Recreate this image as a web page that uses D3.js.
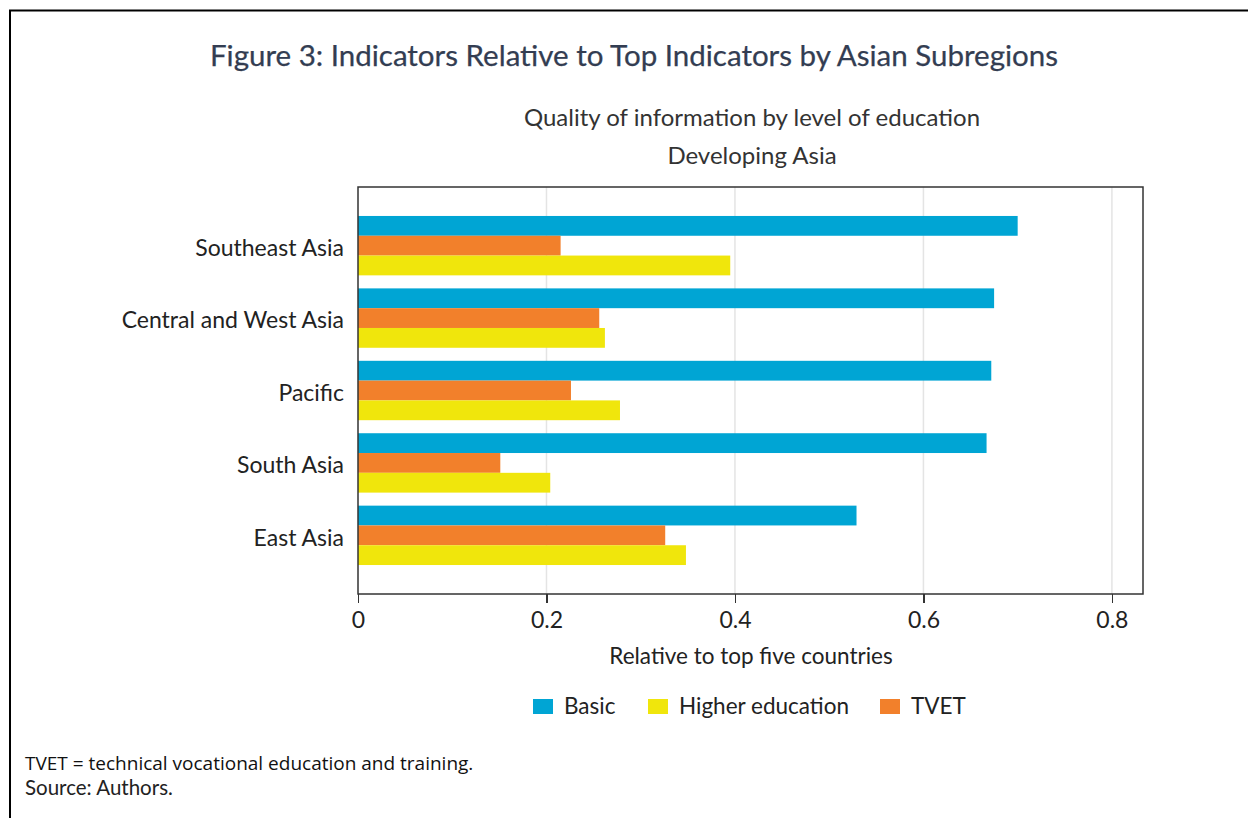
<!DOCTYPE html>
<html lang="en">
<head>
    <meta charset="UTF-8">
    <title>Figure 3</title>
    <script src="https://d3js.org/d3.v7.min.js"></script>
    <style>
        body { margin: 0; background: #fff; }
        .axis text { font-family: Lato, sans-serif; font-size: 23px; fill: #222; }
        .axis path, .axis line { shape-rendering: crispEdges; }
    </style>
</head>
<body>
    <svg id="chart" width="1248" height="818"></svg>
    <script>
        // data
        const regions = ["Southeast Asia", "Central and West Asia", "Pacific", "South Asia", "East Asia"];
        const seriesNames = ["Basic", "TVET", "Higher education"];
        const legendOrder = ["Basic", "Higher education", "TVET"];
        const basic = [0.700, 0.675, 0.672, 0.667, 0.529];
        const tvet = [0.215, 0.256, 0.226, 0.151, 0.326];
        const higher = [0.395, 0.262, 0.278, 0.204, 0.348];
        const xTicks = [0, 0.2, 0.4, 0.6, 0.8];

        const colors = {"Basic": "#00a5d4", "Higher education": "#f0e60c", "TVET": "#f2802b"};
        const values = {"Basic": basic, "TVET": tvet, "Higher education": higher};

        const svg = d3.select("#chart");
        const margin = {top: 187, left: 358, right: 105, bottom: 224};
        const width = 1248 - margin.left - margin.right;
        const height = 818 - margin.top - margin.bottom;

        // outer frame (top + left lines)
        svg.append("path")
            .attr("d", "M10,818 V10.5 H1248")
            .attr("fill", "none")
            .attr("stroke", "#000")
            .attr("stroke-width", 2);

        svg.append("text")
            .attr("x", 634).attr("y", 66)
            .attr("text-anchor", "middle")
            .style("font-family", "Lato, sans-serif")
            .style("font-size", "29.5px")
            .style("fill", "#333d52")
            .style("stroke", "#333d52")
            .style("stroke-width", "0.25px")
            .text("Figure 3: Indicators Relative to Top Indicators by Asian Subregions");

        svg.append("text")
            .attr("x", 752).attr("y", 126)
            .attr("text-anchor", "middle")
            .style("font-family", "Lato, sans-serif")
            .style("font-size", "24px")
            .style("fill", "#333")
            .text("Quality of information by level of education");
        svg.append("text")
            .attr("x", 752).attr("y", 164)
            .attr("text-anchor", "middle")
            .style("font-family", "Lato, sans-serif")
            .style("font-size", "24px")
            .style("fill", "#333")
            .text("Developing Asia");

        const g = svg.append("g").attr("transform", `translate(${margin.left},${margin.top})`);

        const x = d3.scaleLinear().domain([0, 0.833]).range([0, width]);
        const y = d3.scaleBand().domain(regions).range([0, height]).paddingInner(0.18).paddingOuter(0.4);
        const ySub = d3.scaleBand().domain(seriesNames).range([0, y.bandwidth()]);

        // gridlines
        g.selectAll(".grid").data(xTicks.slice(1)).enter().append("line")
            .attr("x1", d => x(d)).attr("x2", d => x(d))
            .attr("y1", 0).attr("y2", height)
            .attr("stroke", "#e4e4e4").attr("stroke-width", 1.5);

        // bars
        seriesNames.forEach(s => {
            g.selectAll(".bar-" + s.replace(/\s/g, ""))
                .data(regions).enter().append("rect")
                .attr("x", 0)
                .attr("y", (d) => y(d) + ySub(s))
                .attr("width", (d, i) => x(values[s][i]))
                .attr("height", ySub.bandwidth())
                .attr("fill", colors[s]);
        });

        // plot frame
        g.append("rect")
            .attr("x", 0).attr("y", 0).attr("width", width).attr("height", height)
            .attr("fill", "none").attr("stroke", "#333").attr("stroke-width", 1.5);

        const xAxis = g.append("g").attr("class", "axis")
            .attr("transform", `translate(0,${height})`)
            .call(d3.axisBottom(x).tickValues(xTicks).tickFormat(d => d === 0 ? "0" : d3.format(".1f")(d)).tickSize(9).tickPadding(9));
        xAxis.select(".domain").remove();
        xAxis.selectAll("line").attr("stroke", "#333").attr("stroke-width", 1.2);

        const yAxis = g.append("g").attr("class", "axis")
            .call(d3.axisLeft(y).tickSize(0).tickPadding(14));
        yAxis.select(".domain").remove();
        yAxis.selectAll("text").attr("dy", "0.45em");

        svg.append("text")
            .attr("x", 751).attr("y", 664)
            .attr("text-anchor", "middle")
            .style("font-family", "Lato, sans-serif")
            .style("font-size", "22.5px")
            .style("fill", "#222")
            .text("Relative to top five countries");

        // legend
        const legendX = [533, 648, 880];
        const lg = svg.append("g");
        legendOrder.forEach((s, i) => {
            lg.append("rect")
                .attr("x", legendX[i]).attr("y", 699)
                .attr("width", 20).attr("height", 15)
                .attr("fill", colors[s]);
            lg.append("text")
                .attr("x", legendX[i] + 31).attr("y", 714)
                .style("font-family", "Lato, sans-serif")
                .style("font-size", "22.5px")
                .style("fill", "#222")
                .text(s);
        });

        svg.append("text")
            .attr("x", 25).attr("y", 770)
            .style("font-family", "'Open Sans', sans-serif")
            .style("font-size", "19px")
            .style("fill", "#111")
            .text("TVET = technical vocational education and training.");
        svg.append("text")
            .attr("x", 25).attr("y", 795)
            .style("font-family", "Lato, sans-serif")
            .style("font-size", "20.5px")
            .style("fill", "#222")
            .text("Source: Authors.");
    </script>
</body>
</html>
